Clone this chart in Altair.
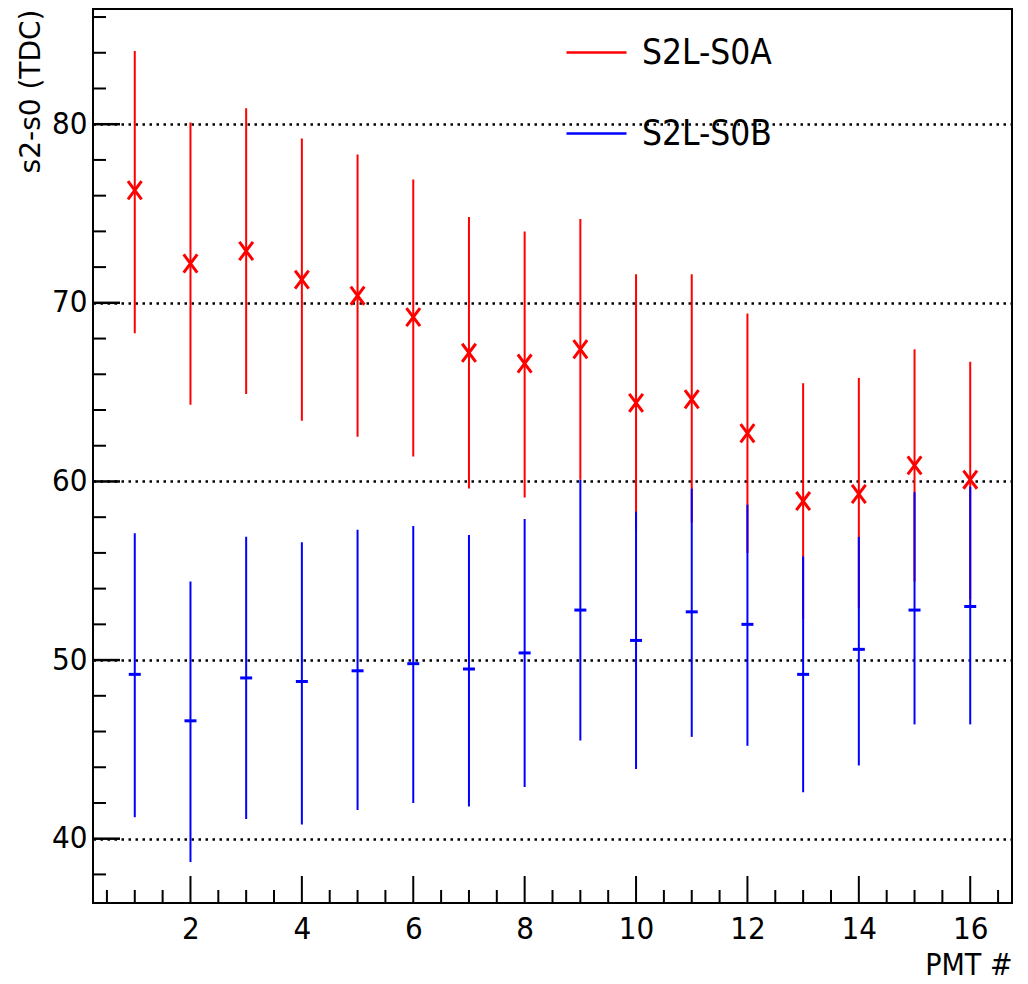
import altair as alt
import pandas as pd

# ---- data ----
pmt = list(range(1, 17))
s0a_mean = [76.3, 72.2, 72.9, 71.3, 70.4, 69.2, 67.2, 66.6, 67.4, 64.4, 64.6, 62.7, 58.9, 59.3, 60.9, 60.1]
s0a_low = [68.3, 64.3, 64.9, 63.4, 62.5, 61.4, 59.6, 59.1, 60.1, 57.3, 57.7, 56.0, 52.3, 52.9, 54.4, 53.4]
s0a_high = [84.1, 80.1, 80.9, 79.2, 78.3, 76.9, 74.8, 74.0, 74.7, 71.6, 71.6, 69.4, 65.5, 65.8, 67.4, 66.7]

s0b_mean = [49.2, 46.6, 49.0, 48.8, 49.4, 49.8, 49.5, 50.4, 52.8, 51.1, 52.7, 52.0, 49.2, 50.6, 52.8, 53.0]
s0b_low = [41.2, 38.7, 41.1, 40.8, 41.6, 42.0, 41.8, 42.9, 45.5, 43.9, 45.7, 45.2, 42.6, 44.1, 46.4, 46.4]
s0b_high = [57.1, 54.4, 56.9, 56.6, 57.3, 57.5, 57.0, 57.9, 60.1, 58.3, 59.6, 58.7, 55.8, 56.9, 59.4, 59.7]

series_names = ["S2L-S0A", "S2L-S0B"]
series_colors = ["#ff0000", "#0000ff"]

y_major = [40, 50, 60, 70, 80]
y_minor = [v for v in range(38, 88, 2) if v % 10 != 0]
x_major = [2, 4, 6, 8, 10, 12, 14, 16]
x_minor = [i * 0.5 for i in range(1, 34) if (i * 0.5) not in x_major]

x_title = "PMT #"
y_title = "s2-s0 (TDC)"

# ---- layout ----
W, H = 919, 894
XD = [0.25, 16.75]
YD = [36.4, 86.45]
NARROW = "Liberation Sans Narrow, Arial Narrow, DejaVu Sans Condensed, sans-serif"

rows = []
for name, m, lo, hi in [(series_names[0], s0a_mean, s0a_low, s0a_high),
                        (series_names[1], s0b_mean, s0b_low, s0b_high)]:
    for p, a, b, c in zip(pmt, m, lo, hi):
        rows.append({"pmt": p, "series": name, "mean": a, "low": b, "high": c})
df = pd.DataFrame(rows)

xs = alt.Scale(domain=XD, nice=False, zero=False)
ys = alt.Scale(domain=YD, nice=False, zero=False)

xaxis = alt.Axis(values=x_major, format="d", ticks=False, domain=False, grid=False,
                 labelFont=NARROW, labelFontSize=31, labelPadding=11, labelColor="black",
                 labelBaseline="top",
                 title=x_title, titleFont=NARROW, titleFontSize=30, titleFontWeight="normal",
                 titleX=W, titleY=71, titleAlign="right", titleBaseline="alphabetic",
                 titleColor="black")
yaxis = alt.Axis(values=y_major, format="d", ticks=False, domain=False, grid=True,
                 gridColor="black", gridDash=[2.5, 4.5], gridWidth=2.5, gridOpacity=1,
                 labelFont=NARROW, labelFontSize=31, labelPadding=6, labelColor="black",
                 title=y_title, titleFont="DejaVu Sans", titleFontSize=28,
                 titleFontWeight="normal", titleAngle=270, titleX=-62, titleY=0,
                 titleAlign="right", titleBaseline="middle", titleColor="black")


def X(field):
    return alt.X(field, type="quantitative", scale=xs, axis=xaxis)


def Y(field):
    return alt.Y(field, type="quantitative", scale=ys, axis=yaxis)


base = alt.Chart(df)

bars = base.mark_rule(strokeWidth=2).encode(
    x=X("pmt"),
    y=Y("low"),
    y2="high",
    color=alt.Color("series:N",
                    scale=alt.Scale(domain=series_names, range=series_colors),
                    legend=alt.Legend(title=None, orient="none", legendX=472, legendY=12,
                                      symbolType="stroke", symbolSize=3600,
                                      symbolStrokeWidth=2.5, labelFont=NARROW,
                                      labelFontSize=35, labelColor="black",
                                      rowPadding=31, labelOffset=14, labelLimit=0)),
)

xmark = base.transform_filter(alt.datum.series == series_names[0]).mark_point(
    shape="M-0.75,-1L0.75,1M-0.75,1L0.75,-1", size=330, strokeWidth=3,
    color=series_colors[0], filled=False, opacity=1
).encode(x=X("pmt"), y=Y("mean"))

tmark = base.transform_filter(alt.datum.series == series_names[1]).mark_tick(
    orient="horizontal", size=12, thickness=3, color=series_colors[1], opacity=1
).encode(x=X("pmt"), y=Y("mean"))

ymaj = alt.Chart(pd.DataFrame({"v": y_major})).mark_rule(color="black", strokeWidth=2.5).encode(
    y=Y("v"), x=alt.value(0), x2=alt.value(27))
ymin = alt.Chart(pd.DataFrame({"v": y_minor})).mark_rule(color="black", strokeWidth=2).encode(
    y=Y("v"), x=alt.value(0), x2=alt.value(13))
xmaj = alt.Chart(pd.DataFrame({"v": x_major})).mark_rule(color="black", strokeWidth=2).encode(
    x=X("v"), y=alt.value(H), y2=alt.value(H - 27))
xmin = alt.Chart(pd.DataFrame({"v": x_minor})).mark_rule(color="black", strokeWidth=2).encode(
    x=X("v"), y=alt.value(H), y2=alt.value(H - 13))

chart = alt.layer(bars, ymaj, ymin, xmaj, xmin, xmark, tmark).properties(
    width=W, height=H,
    autosize=alt.AutoSizeParams(type="none"),
    padding={"left": 85, "top": 1, "right": 6, "bottom": 80},
    background="white",
).configure_view(stroke="black", strokeWidth=2)

chart.save("out.html", embed_options={"renderer": "svg", "actions": False})
